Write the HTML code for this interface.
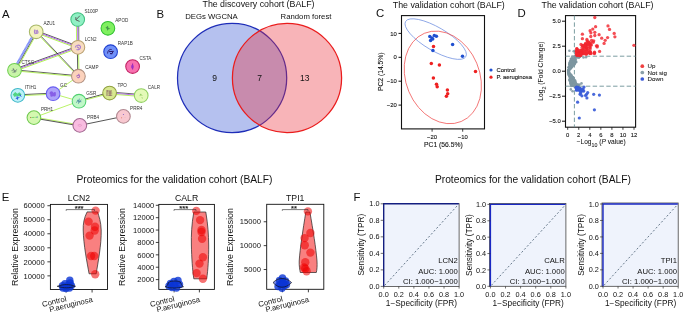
<!DOCTYPE html>
<html><head><meta charset="utf-8"><style>
html,body{margin:0;padding:0;background:#fff;width:685px;height:314px;overflow:hidden}
svg{display:block;font-family:"Liberation Sans", sans-serif;will-change:transform}
</style></head><body>
<svg width="685" height="314" viewBox="0 0 685 314">
<rect width="685" height="314" fill="#fff"/>
<text x="1.9" y="17.7" font-size="11.4" text-anchor="start" fill="#111" >A</text>
<text x="156.6" y="18.3" font-size="11.4" text-anchor="start" fill="#111" >B</text>
<text x="376.1" y="17.4" font-size="11.4" text-anchor="start" fill="#111" >C</text>
<text x="517.5" y="17.0" font-size="11.4" text-anchor="start" fill="#111" >D</text>
<text x="1.8" y="200.8" font-size="11.4" text-anchor="start" fill="#111" >E</text>
<text x="353.6" y="201" font-size="11.4" text-anchor="start" fill="#111" >F</text>
<line x1="35.33" y1="31.31" x2="13.63" y2="69.81" stroke="#a4b0ff" stroke-width="2.1"/>
<line x1="35.33" y1="31.31" x2="13.63" y2="69.81" stroke="#6878f0" stroke-width="2.1" stroke-dasharray="0.5 0.9"/>
<line x1="36.68" y1="32.07" x2="14.98" y2="70.57" stroke="#2a2a2a" stroke-width="0.7"/>
<line x1="37.42" y1="32.49" x2="15.72" y2="70.99" stroke="#a8f040" stroke-width="0.8"/>
<line x1="36.58" y1="30.77" x2="78.28" y2="46.27" stroke="#2a2a2a" stroke-width="0.75"/>
<line x1="36.23" y1="31.71" x2="77.93" y2="47.21" stroke="#b060f0" stroke-width="1.0"/>
<line x1="35.85" y1="32.74" x2="77.55" y2="48.24" stroke="#a8f040" stroke-width="0.9"/>
<line x1="36.53" y1="31.49" x2="78.73" y2="75.89" stroke="#2a2a2a" stroke-width="0.75"/>
<line x1="35.84" y1="32.14" x2="78.04" y2="76.54" stroke="#a8f040" stroke-width="0.8"/>
<line x1="14.12" y1="69.27" x2="77.52" y2="46.27" stroke="#2a2a2a" stroke-width="0.75"/>
<line x1="14.47" y1="70.21" x2="77.87" y2="47.21" stroke="#b060f0" stroke-width="1.0"/>
<line x1="14.84" y1="71.24" x2="78.24" y2="48.24" stroke="#a8f040" stroke-width="0.9"/>
<line x1="14.54" y1="69.85" x2="78.44" y2="75.75" stroke="#2a2a2a" stroke-width="0.75"/>
<line x1="14.45" y1="70.80" x2="78.35" y2="76.70" stroke="#a8f040" stroke-width="0.8"/>
<line x1="77.30" y1="47.31" x2="77.80" y2="76.21" stroke="#2a2a2a" stroke-width="0.75"/>
<line x1="78.50" y1="47.29" x2="79.00" y2="76.19" stroke="#a8f040" stroke-width="0.8"/>
<line x1="76.40" y1="19.51" x2="76.60" y2="47.31" stroke="#a8f040" stroke-width="0.8"/>
<line x1="77.60" y1="19.50" x2="77.80" y2="47.30" stroke="#b060f0" stroke-width="0.9"/>
<line x1="78.70" y1="19.49" x2="78.90" y2="47.29" stroke="#2a2a2a" stroke-width="0.6"/>
<line x1="17.78" y1="94.80" x2="53.08" y2="93.20" stroke="#2a2a2a" stroke-width="0.8"/>
<line x1="17.82" y1="95.80" x2="53.12" y2="94.20" stroke="#a8f040" stroke-width="0.8"/>
<line x1="53.10" y1="93.70" x2="78.40" y2="76.20" stroke="#a8f040" stroke-width="0.8"/>
<line x1="53.10" y1="93.70" x2="79.00" y2="101.20" stroke="#a8f040" stroke-width="0.8"/>
<line x1="78.87" y1="100.72" x2="109.47" y2="92.52" stroke="#2a2a2a" stroke-width="0.8"/>
<line x1="79.13" y1="101.68" x2="109.73" y2="93.48" stroke="#a8f040" stroke-width="0.8"/>
<line x1="109.68" y1="92.00" x2="141.28" y2="94.50" stroke="#2a2a2a" stroke-width="0.7"/>
<line x1="109.60" y1="93.00" x2="141.20" y2="95.50" stroke="#b060f0" stroke-width="0.9"/>
<line x1="109.52" y1="94.00" x2="141.12" y2="96.50" stroke="#a8f040" stroke-width="0.8"/>
<line x1="79.00" y1="101.20" x2="33.90" y2="117.60" stroke="#a8f040" stroke-width="0.8"/>
<line x1="33.98" y1="117.11" x2="79.88" y2="124.91" stroke="#a8f040" stroke-width="0.8"/>
<line x1="33.82" y1="118.09" x2="79.72" y2="125.89" stroke="#2a2a2a" stroke-width="0.8"/>
<line x1="79.80" y1="125.40" x2="123.40" y2="116.40" stroke="#2a2a2a" stroke-width="0.8"/>
<circle cx="36.2" cy="31.8" r="6.85" fill="#f4f4c0" stroke="#a8b868" stroke-width="1.05"/>
<g transform="translate(36.2,31.8)"><path d="M-1.2 -2.2 C-2 -0.5 -1.6 1.5 -0.8 2.4 M0 -1.5 L0.2 2.2 M0.8 -2 C1.8 -0.8 1.9 1 1.3 2" stroke="#a070d0" stroke-width="1.2" fill="none" opacity="0.85"/></g>
<circle cx="77.7" cy="19.5" r="6.85" fill="#90f0c4" stroke="#40c080" stroke-width="1.05"/>
<g transform="translate(77.7,19.5)"><path d="M2.2 -3.8 L-1.8 0.4 M-1.9 -2.4 L-1.8 0.4 L1.9 1.9" stroke="#555" stroke-width="0.9" fill="none"/></g>
<circle cx="107.9" cy="28.3" r="6.85" fill="#80f060" stroke="#30c030" stroke-width="1.05"/>
<g transform="translate(107.9,28.3)"><path d="M-2.4 -0.6 L0 -2.6 L0.6 -0.4 L2.6 0.4 L0.2 1.2 L-0.6 2.8 L-1 0.4 Z" fill="#2f7a40" opacity="0.75"/></g>
<circle cx="77.9" cy="47.3" r="6.85" fill="#f8dcc0" stroke="#b8a070" stroke-width="1.05"/>
<g transform="translate(77.9,47.3)"><path d="M-2.6 0.2 C-2.4 -2.4 1.8 -3 2.6 -0.6 C3 1.8 0.4 3 -1.4 2.2 M-1 -0.6 L1.2 1" stroke="#a070d0" stroke-width="1.1" fill="none" opacity="0.9"/></g>
<circle cx="110.6" cy="51.7" r="6.85" fill="#7090f8" stroke="#2040d0" stroke-width="1.05"/>
<g transform="translate(110.6,51.7)"><path d="M-3 1.8 C-2.8 -1.6 -0.6 -2.6 1 -2.2 M-1.6 0 L2.8 -0.4 L0.6 2.6 M-0.6 1.8 L1.8 2" stroke="#2a1a70" stroke-width="1" fill="none"/></g>
<circle cx="14.5" cy="70.3" r="6.85" fill="#c8f4a8" stroke="#70d050" stroke-width="1.05"/>
<g transform="translate(14.5,70.3)"><path d="M-3 0.4 L-0.6 -0.8 L0.6 0.6 L2.6 -0.8 M-1.4 -2.2 L0.4 2.2 M-2 2 L1.8 1.2" stroke="#607070" stroke-width="0.7" fill="none"/></g>
<circle cx="78.4" cy="76.2" r="6.85" fill="#fcd2bc" stroke="#b09080" stroke-width="1.05"/>
<g transform="translate(78.4,76.2)"><path d="M-1.8 0.4 C-1.4 -1.2 0.8 -1.6 1.2 0 C1.4 1.4 -0.4 1.8 -1.2 1.2 M0.6 -2.4 L0 -0.6" stroke="#a060c0" stroke-width="1.1" fill="none" opacity="0.9"/></g>
<circle cx="132.6" cy="66.5" r="6.85" fill="#f870b0" stroke="#c02060" stroke-width="1.05"/>
<g transform="translate(132.6,66.5)"><path d="M0 -3 L0 3" stroke="#8a20b0" stroke-width="0.9"/><ellipse cx="-0.2" cy="0.2" rx="1.4" ry="1.9" fill="#9a30c8" opacity="0.85"/></g>
<circle cx="17.8" cy="95.3" r="6.85" fill="#bcf0f8" stroke="#40b8c8" stroke-width="1.05"/>
<g transform="translate(17.8,95.3)"><path d="M-5 -0.8 L-2.6 -3.4 L-0.4 -1.6 L1.6 -3 L3.8 -0.8 L1.4 1.2 L-1 0.4 L-3.2 1.8 Z" fill="#40d070" opacity="0.85"/><path d="M-0.8 0.8 L-0.2 4.4 M-2 3.2 L1.6 2.2 M2 -1 L3.4 1.4" stroke="#2050e0" stroke-width="0.9" fill="none"/></g>
<circle cx="53.1" cy="93.7" r="6.85" fill="#aea4fa" stroke="#6a60f0" stroke-width="1.05"/>
<g transform="translate(53.1,93.7)"><path d="M-3 -1.6 C-2 -3.2 0 -2.2 0.4 -0.6 C1.4 -2.8 3.6 -1.6 2.6 0.4 C3.6 2 1.6 3.6 0 2.2 C-1 3.6 -3.6 3 -2.6 1 C-4 0.4 -3.6 -1 -3 -1.6Z" fill="#7a48e0" opacity="0.75"/></g>
<circle cx="109.6" cy="93.0" r="6.85" fill="#d8e890" stroke="#90a040" stroke-width="1.05"/>
<g transform="translate(109.6,93.0)"><path d="M-2.6 -3 L-2.6 3 M-2.6 -2 L2.4 -2 M-1.4 0 L2.6 0 M-1.4 2.2 L2.6 2.2 M0.4 -2 L0.4 3" stroke="#805060" stroke-width="0.75" fill="none"/></g>
<circle cx="141.2" cy="95.5" r="6.85" fill="#e4fab8" stroke="#90d060" stroke-width="1.05"/>
<g transform="translate(141.2,95.5)"><path d="M-0.6 -1.6 L-1.2 0.6 M-0.6 -1.6 L1 0.4 M0.8 1.8 L1.2 3" stroke="#80c050" stroke-width="0.7" fill="none"/></g>
<circle cx="79.0" cy="101.2" r="6.85" fill="#c0f8c8" stroke="#50d070" stroke-width="1.05"/>
<g transform="translate(79.0,101.2)"><path d="M-2.6 1.6 L-1 -1.4 L0.6 1.2 L2.2 -1.6 M-1.8 -0.4 L2.4 0.6 M-0.6 2.6 L0.4 -2.6" stroke="#4a8aa0" stroke-width="0.7" fill="none"/></g>
<circle cx="123.4" cy="116.4" r="6.85" fill="#f8c8d0" stroke="#b08890" stroke-width="1.05"/>
<g transform="translate(123.4,116.4)"><circle cx="0" cy="-2" r="0.5" fill="#7050c0"/><circle cx="-1.8" cy="1.4" r="0.5" fill="#e07050"/><circle cx="1.6" cy="1.2" r="0.4" fill="#e0a0a0"/></g>
<circle cx="33.9" cy="117.6" r="6.85" fill="#d4f8b0" stroke="#70c850" stroke-width="1.05"/>
<g transform="translate(33.9,117.6)"><path d="M-3.4 0 L3.4 -0.4" stroke="#40c040" stroke-width="0.8" stroke-dasharray="0.8 0.6"/><circle cx="-3.2" cy="0" r="0.5" fill="#d05040"/><circle cx="3.4" cy="-0.5" r="0.5" fill="#3050d0"/></g>
<circle cx="79.8" cy="125.4" r="6.85" fill="#f8bce0" stroke="#a06890" stroke-width="1.05"/>
<g transform="translate(79.8,125.4)"><path d="M-2 -0.2 C-1 -1.4 1.4 -1 2 0 C1 1.2 -1 1.2 -2 -0.2" stroke="#e090c0" stroke-width="0.6" fill="none"/></g>
<text x="43.4" y="24.9" font-size="4.6" text-anchor="start" fill="#333" >AZU1</text>
<text x="84.4" y="12.9" font-size="4.6" text-anchor="start" fill="#333" >S100P</text>
<text x="115.3" y="21.9" font-size="4.6" text-anchor="start" fill="#333" >APOD</text>
<text x="84.8" y="40.8" font-size="4.6" text-anchor="start" fill="#333" >LCN2</text>
<text x="117.8" y="45.3" font-size="4.6" text-anchor="start" fill="#333" >RAP1B</text>
<text x="21.5" y="64.0" font-size="4.6" text-anchor="start" fill="#333" >CTSG</text>
<text x="85.2" y="69.4" font-size="4.6" text-anchor="start" fill="#333" >CAMP</text>
<text x="139.5" y="59.9" font-size="4.6" text-anchor="start" fill="#333" >CSTA</text>
<text x="25.1" y="88.9" font-size="4.6" text-anchor="start" fill="#333" >ITIH1</text>
<text x="60.1" y="86.7" font-size="4.6" text-anchor="start" fill="#333" >GC</text>
<text x="117.5" y="86.5" font-size="4.6" text-anchor="start" fill="#333" >TPO</text>
<text x="147.8" y="88.6" font-size="4.6" text-anchor="start" fill="#333" >CALR</text>
<text x="86.3" y="94.6" font-size="4.6" text-anchor="start" fill="#333" >GSR</text>
<text x="130.1" y="109.6" font-size="4.6" text-anchor="start" fill="#333" >PRR4</text>
<text x="40.9" y="110.6" font-size="4.6" text-anchor="start" fill="#333" >PRH1</text>
<text x="87.1" y="119.0" font-size="4.6" text-anchor="start" fill="#333" >PRB4</text>
<text x="258.5" y="7.3" font-size="8.8" text-anchor="middle" fill="#111" >The discovery cohort (BALF)</text>
<text x="211.5" y="19.4" font-size="7.75" text-anchor="middle" fill="#111" >DEGs WGCNA</text>
<text x="306" y="19.4" font-size="7.75" text-anchor="middle" fill="#111" >Random forest</text>
<circle cx="232.1" cy="78.0" r="54.6" fill="#b5c1ef" stroke="#1e2db8" stroke-width="1.25"/>
<circle cx="287.0" cy="78.0" r="54.6" fill="rgb(236,40,52)" fill-opacity="0.35" stroke="#ea1c1c" stroke-width="1.25"/>
<text x="214.6" y="81" font-size="8.5" text-anchor="middle" fill="#111" >9</text>
<text x="259.6" y="81" font-size="8.5" text-anchor="middle" fill="#111" >7</text>
<text x="304.7" y="81" font-size="8.5" text-anchor="middle" fill="#111" >13</text>
<text x="448.8" y="8.2" font-size="8.8" text-anchor="middle" fill="#111" >The validation cohort (BALF)</text>
<rect x="401.5" y="15.6" width="83.0" height="113.30000000000001" fill="none" stroke="#111" stroke-width="1.1"/>
<line x1="398.5" y1="33.40" x2="401.5" y2="33.40" stroke="#111" stroke-width="1"/>
<text x="396.8" y="35.49999999999999" font-size="5.9" text-anchor="end" fill="#111" stroke="#111" stroke-width="0.1">10</text>
<line x1="398.5" y1="57.30" x2="401.5" y2="57.30" stroke="#111" stroke-width="1"/>
<text x="396.8" y="59.4" font-size="5.9" text-anchor="end" fill="#111" stroke="#111" stroke-width="0.1">0</text>
<line x1="398.5" y1="81.20" x2="401.5" y2="81.20" stroke="#111" stroke-width="1"/>
<text x="396.8" y="83.3" font-size="5.9" text-anchor="end" fill="#111" stroke="#111" stroke-width="0.1">−10</text>
<line x1="398.5" y1="105.10" x2="401.5" y2="105.10" stroke="#111" stroke-width="1"/>
<text x="396.8" y="107.19999999999999" font-size="5.9" text-anchor="end" fill="#111" stroke="#111" stroke-width="0.1">−20</text>
<line x1="432.10" y1="128.9" x2="432.10" y2="131.70000000000002" stroke="#111" stroke-width="0.8"/>
<text x="432.1" y="139.3" font-size="5.9" text-anchor="middle" fill="#111" stroke="#111" stroke-width="0.1">−20</text>
<line x1="462.70" y1="128.9" x2="462.70" y2="131.70000000000002" stroke="#111" stroke-width="0.8"/>
<text x="462.70000000000005" y="139.3" font-size="5.9" text-anchor="middle" fill="#111" stroke="#111" stroke-width="0.1">−10</text>
<text x="443.4" y="146.7" font-size="6.75" text-anchor="middle" fill="#111" stroke="#111" stroke-width="0.1">PC1 (56.5%)</text>
<text x="0" y="0" font-size="6.75" text-anchor="middle" fill="#111" stroke="#111" stroke-width="0.1" transform="translate(383.2,71.7) rotate(-90)">PC2 (14.5%)</text>
<ellipse cx="435.7" cy="39.1" rx="34.9" ry="11.7" transform="rotate(30.3 435.7 39.1)" fill="none" stroke="#6f8fe0" stroke-width="0.7"/>
<ellipse cx="442.8" cy="77.4" rx="36.8" ry="47.8" transform="rotate(-22.7 442.8 77.4)" fill="none" stroke="#f05050" stroke-width="0.7"/>
<circle cx="429.8" cy="36.5" r="1.75" fill="#1f4fd0"/>
<circle cx="431.9" cy="38" r="1.75" fill="#1f4fd0"/>
<circle cx="434.3" cy="35.5" r="1.75" fill="#1f4fd0"/>
<circle cx="436.4" cy="36.3" r="1.75" fill="#1f4fd0"/>
<circle cx="430.6" cy="40.4" r="1.75" fill="#1f4fd0"/>
<circle cx="432.7" cy="39" r="1.75" fill="#1f4fd0"/>
<circle cx="452.6" cy="44.6" r="1.75" fill="#1f4fd0"/>
<circle cx="432.9" cy="50.4" r="1.75" fill="#1f4fd0"/>
<circle cx="462.5" cy="56.2" r="1.75" fill="#1f4fd0"/>
<circle cx="433.5" cy="46.6" r="1.75" fill="#ee2020"/>
<circle cx="431.3" cy="63.6" r="1.75" fill="#ee2020"/>
<circle cx="439.4" cy="65.0" r="1.75" fill="#ee2020"/>
<circle cx="475.5" cy="71.5" r="1.75" fill="#ee2020"/>
<circle cx="433.4" cy="77.9" r="1.75" fill="#ee2020"/>
<circle cx="436.5" cy="84.3" r="1.75" fill="#ee2020"/>
<circle cx="437.2" cy="86.8" r="1.75" fill="#ee2020"/>
<circle cx="447.4" cy="90.1" r="1.75" fill="#ee2020"/>
<circle cx="447.7" cy="93.7" r="1.75" fill="#ee2020"/>
<circle cx="446.4" cy="96.2" r="1.75" fill="#ee2020"/>
<circle cx="491" cy="70" r="1.6" fill="#1f4fd0"/>
<circle cx="491" cy="77.2" r="1.6" fill="#ee2020"/>
<text x="496.5" y="72.2" font-size="5.9" text-anchor="start" fill="#111" stroke="#111" stroke-width="0.1">Control</text>
<text x="496.5" y="79.4" font-size="5.9" text-anchor="start" fill="#111" stroke="#111" stroke-width="0.1">P. aeruginosa</text>
<text x="597.5" y="8.2" font-size="8.8" text-anchor="middle" fill="#111" >The validation cohort (BALF)</text>
<rect x="565.5" y="15.6" width="70.10000000000002" height="111.60000000000001" fill="none" stroke="#111" stroke-width="1.1"/>
<line x1="562.0" y1="21.20" x2="565.5" y2="21.20" stroke="#111" stroke-width="1"/>
<text x="560.8" y="23.300000000000004" font-size="5.9" text-anchor="end" fill="#111" stroke="#111" stroke-width="0.1">5.0</text>
<line x1="562.0" y1="46.20" x2="565.5" y2="46.20" stroke="#111" stroke-width="1"/>
<text x="560.8" y="48.300000000000004" font-size="5.9" text-anchor="end" fill="#111" stroke="#111" stroke-width="0.1">2.5</text>
<line x1="562.0" y1="71.20" x2="565.5" y2="71.20" stroke="#111" stroke-width="1"/>
<text x="560.8" y="73.3" font-size="5.9" text-anchor="end" fill="#111" stroke="#111" stroke-width="0.1">0.0</text>
<line x1="562.0" y1="96.20" x2="565.5" y2="96.20" stroke="#111" stroke-width="1"/>
<text x="560.8" y="98.3" font-size="5.9" text-anchor="end" fill="#111" stroke="#111" stroke-width="0.1">−2.5</text>
<line x1="562.0" y1="121.20" x2="565.5" y2="121.20" stroke="#111" stroke-width="1"/>
<text x="560.8" y="123.3" font-size="5.9" text-anchor="end" fill="#111" stroke="#111" stroke-width="0.1">−5.0</text>
<line x1="567.70" y1="127.2" x2="567.70" y2="129.8" stroke="#111" stroke-width="0.8"/>
<text x="567.7" y="137.0" font-size="5.9" text-anchor="middle" fill="#111" stroke="#111" stroke-width="0.1">0</text>
<line x1="578.75" y1="127.2" x2="578.75" y2="129.8" stroke="#111" stroke-width="0.8"/>
<text x="578.75" y="137.0" font-size="5.9" text-anchor="middle" fill="#111" stroke="#111" stroke-width="0.1">2</text>
<line x1="589.80" y1="127.2" x2="589.80" y2="129.8" stroke="#111" stroke-width="0.8"/>
<text x="589.8000000000001" y="137.0" font-size="5.9" text-anchor="middle" fill="#111" stroke="#111" stroke-width="0.1">4</text>
<line x1="600.85" y1="127.2" x2="600.85" y2="129.8" stroke="#111" stroke-width="0.8"/>
<text x="600.85" y="137.0" font-size="5.9" text-anchor="middle" fill="#111" stroke="#111" stroke-width="0.1">6</text>
<line x1="611.90" y1="127.2" x2="611.90" y2="129.8" stroke="#111" stroke-width="0.8"/>
<text x="611.9000000000001" y="137.0" font-size="5.9" text-anchor="middle" fill="#111" stroke="#111" stroke-width="0.1">8</text>
<line x1="622.95" y1="127.2" x2="622.95" y2="129.8" stroke="#111" stroke-width="0.8"/>
<text x="622.95" y="137.0" font-size="5.9" text-anchor="middle" fill="#111" stroke="#111" stroke-width="0.1">10</text>
<line x1="634.00" y1="127.2" x2="634.00" y2="129.8" stroke="#111" stroke-width="0.8"/>
<text x="634.0" y="137.0" font-size="5.9" text-anchor="middle" fill="#111" stroke="#111" stroke-width="0.1">12</text>
<text x="601.2" y="144.2" font-size="6.6" text-anchor="middle" fill="#111" stroke="#111" stroke-width="0.05">−Log<tspan font-size="5.3" dy="2.5">10</tspan><tspan dy="-2.5"> (</tspan><tspan style="font-style:italic">P</tspan> value)</text>
<text x="0" y="0" font-size="6.75" text-anchor="middle" fill="#222" stroke="#111" stroke-width="0.05" transform="translate(543.3,71.1) rotate(-90)">Log<tspan font-size="5.3" dy="2.3">2</tspan><tspan dy="-2.3"> (Fold Change)</tspan></text>
<g stroke="#6d9296" stroke-width="0.9" stroke-dasharray="4.4 2.4" fill="none">
<line x1="574.4" y1="15.6" x2="574.4" y2="127.2"/>
<line x1="565.5" y1="56.20" x2="635.6" y2="56.20"/>
<line x1="565.5" y1="86.20" x2="635.6" y2="86.20"/>
</g>
<circle cx="571.1" cy="67.2" r="1.3" fill="#7d96a0" fill-opacity="0.88"/>
<circle cx="576.3" cy="61.9" r="1.3" fill="#7d96a0" fill-opacity="0.88"/>
<circle cx="574.7" cy="63.6" r="1.3" fill="#7d96a0" fill-opacity="0.88"/>
<circle cx="574.4" cy="85.3" r="1.3" fill="#7d96a0" fill-opacity="0.88"/>
<circle cx="576.7" cy="57.4" r="1.3" fill="#7d96a0" fill-opacity="0.88"/>
<circle cx="571.8" cy="58.7" r="1.3" fill="#7d96a0" fill-opacity="0.88"/>
<circle cx="568.3" cy="71.9" r="1.3" fill="#7d96a0" fill-opacity="0.88"/>
<circle cx="569.1" cy="69.6" r="1.3" fill="#7d96a0" fill-opacity="0.88"/>
<circle cx="572.4" cy="85.8" r="1.3" fill="#7d96a0" fill-opacity="0.88"/>
<circle cx="572.9" cy="77.7" r="1.3" fill="#7d96a0" fill-opacity="0.88"/>
<circle cx="570.4" cy="62.8" r="1.3" fill="#7d96a0" fill-opacity="0.88"/>
<circle cx="570.5" cy="61.9" r="1.3" fill="#7d96a0" fill-opacity="0.88"/>
<circle cx="569.0" cy="67.4" r="1.3" fill="#7d96a0" fill-opacity="0.88"/>
<circle cx="578.4" cy="86.1" r="1.3" fill="#7d96a0" fill-opacity="0.88"/>
<circle cx="570.7" cy="79.8" r="1.3" fill="#7d96a0" fill-opacity="0.88"/>
<circle cx="579.1" cy="56.2" r="1.3" fill="#7d96a0" fill-opacity="0.88"/>
<circle cx="572.8" cy="77.4" r="1.3" fill="#7d96a0" fill-opacity="0.88"/>
<circle cx="569.2" cy="69.8" r="1.3" fill="#7d96a0" fill-opacity="0.88"/>
<circle cx="574.6" cy="80.0" r="1.3" fill="#7d96a0" fill-opacity="0.88"/>
<circle cx="573.7" cy="65.1" r="1.3" fill="#7d96a0" fill-opacity="0.88"/>
<circle cx="573.1" cy="58.9" r="1.3" fill="#7d96a0" fill-opacity="0.88"/>
<circle cx="569.2" cy="75.2" r="1.3" fill="#7d96a0" fill-opacity="0.88"/>
<circle cx="570.3" cy="81.8" r="1.3" fill="#7d96a0" fill-opacity="0.88"/>
<circle cx="571.3" cy="77.0" r="1.3" fill="#7d96a0" fill-opacity="0.88"/>
<circle cx="576.6" cy="86.1" r="1.3" fill="#7d96a0" fill-opacity="0.88"/>
<circle cx="569.8" cy="75.9" r="1.3" fill="#7d96a0" fill-opacity="0.88"/>
<circle cx="573.3" cy="61.2" r="1.3" fill="#7d96a0" fill-opacity="0.88"/>
<circle cx="570.6" cy="76.6" r="1.3" fill="#7d96a0" fill-opacity="0.88"/>
<circle cx="569.4" cy="64.7" r="1.3" fill="#7d96a0" fill-opacity="0.88"/>
<circle cx="572.2" cy="56.5" r="1.3" fill="#7d96a0" fill-opacity="0.88"/>
<circle cx="574.5" cy="63.3" r="1.3" fill="#7d96a0" fill-opacity="0.88"/>
<circle cx="577.3" cy="85.6" r="1.3" fill="#7d96a0" fill-opacity="0.88"/>
<circle cx="570.2" cy="75.0" r="1.3" fill="#7d96a0" fill-opacity="0.88"/>
<circle cx="571.0" cy="85.9" r="1.3" fill="#7d96a0" fill-opacity="0.88"/>
<circle cx="575.2" cy="80.7" r="1.3" fill="#7d96a0" fill-opacity="0.88"/>
<circle cx="573.8" cy="80.2" r="1.3" fill="#7d96a0" fill-opacity="0.88"/>
<circle cx="578.8" cy="57.8" r="1.3" fill="#7d96a0" fill-opacity="0.88"/>
<circle cx="569.8" cy="75.7" r="1.3" fill="#7d96a0" fill-opacity="0.88"/>
<circle cx="569.0" cy="70.2" r="1.3" fill="#7d96a0" fill-opacity="0.88"/>
<circle cx="575.3" cy="82.9" r="1.3" fill="#7d96a0" fill-opacity="0.88"/>
<circle cx="575.8" cy="61.9" r="1.3" fill="#7d96a0" fill-opacity="0.88"/>
<circle cx="578.3" cy="85.1" r="1.3" fill="#7d96a0" fill-opacity="0.88"/>
<circle cx="572.6" cy="83.4" r="1.3" fill="#7d96a0" fill-opacity="0.88"/>
<circle cx="571.4" cy="67.6" r="1.3" fill="#7d96a0" fill-opacity="0.88"/>
<circle cx="571.6" cy="75.8" r="1.3" fill="#7d96a0" fill-opacity="0.88"/>
<circle cx="568.8" cy="69.6" r="1.3" fill="#7d96a0" fill-opacity="0.88"/>
<circle cx="569.6" cy="76.5" r="1.3" fill="#7d96a0" fill-opacity="0.88"/>
<circle cx="571.3" cy="83.8" r="1.3" fill="#7d96a0" fill-opacity="0.88"/>
<circle cx="573.8" cy="65.2" r="1.3" fill="#7d96a0" fill-opacity="0.88"/>
<circle cx="570.1" cy="81.3" r="1.3" fill="#7d96a0" fill-opacity="0.88"/>
<circle cx="576.5" cy="56.1" r="1.3" fill="#7d96a0" fill-opacity="0.88"/>
<circle cx="568.9" cy="73.8" r="1.3" fill="#7d96a0" fill-opacity="0.88"/>
<circle cx="570.7" cy="68.1" r="1.3" fill="#7d96a0" fill-opacity="0.88"/>
<circle cx="568.6" cy="72.3" r="1.3" fill="#7d96a0" fill-opacity="0.88"/>
<circle cx="577.7" cy="84.5" r="1.3" fill="#7d96a0" fill-opacity="0.88"/>
<circle cx="574.6" cy="85.2" r="1.3" fill="#7d96a0" fill-opacity="0.88"/>
<circle cx="570.9" cy="60.6" r="1.3" fill="#7d96a0" fill-opacity="0.88"/>
<circle cx="574.7" cy="63.9" r="1.3" fill="#7d96a0" fill-opacity="0.88"/>
<circle cx="571.4" cy="67.0" r="1.3" fill="#7d96a0" fill-opacity="0.88"/>
<circle cx="573.1" cy="82.9" r="1.3" fill="#7d96a0" fill-opacity="0.88"/>
<circle cx="575.2" cy="81.6" r="1.3" fill="#7d96a0" fill-opacity="0.88"/>
<circle cx="570.8" cy="77.2" r="1.3" fill="#7d96a0" fill-opacity="0.88"/>
<circle cx="579.2" cy="55.7" r="1.3" fill="#7d96a0" fill-opacity="0.88"/>
<circle cx="575.7" cy="56.4" r="1.3" fill="#7d96a0" fill-opacity="0.88"/>
<circle cx="568.3" cy="71.3" r="1.3" fill="#7d96a0" fill-opacity="0.88"/>
<circle cx="568.3" cy="71.6" r="1.3" fill="#7d96a0" fill-opacity="0.88"/>
<circle cx="568.8" cy="73.9" r="1.3" fill="#7d96a0" fill-opacity="0.88"/>
<circle cx="570.9" cy="74.7" r="1.3" fill="#7d96a0" fill-opacity="0.88"/>
<circle cx="576.8" cy="56.9" r="1.3" fill="#7d96a0" fill-opacity="0.88"/>
<circle cx="568.2" cy="71.0" r="1.3" fill="#7d96a0" fill-opacity="0.88"/>
<circle cx="572.2" cy="83.5" r="1.3" fill="#7d96a0" fill-opacity="0.88"/>
<circle cx="575.4" cy="62.3" r="1.3" fill="#7d96a0" fill-opacity="0.88"/>
<circle cx="570.8" cy="75.2" r="1.3" fill="#7d96a0" fill-opacity="0.88"/>
<circle cx="574.1" cy="62.6" r="1.3" fill="#7d96a0" fill-opacity="0.88"/>
<circle cx="572.1" cy="65.9" r="1.3" fill="#7d96a0" fill-opacity="0.88"/>
<circle cx="570.5" cy="75.1" r="1.3" fill="#7d96a0" fill-opacity="0.88"/>
<circle cx="571.1" cy="77.6" r="1.3" fill="#7d96a0" fill-opacity="0.88"/>
<circle cx="574.0" cy="62.7" r="1.3" fill="#7d96a0" fill-opacity="0.88"/>
<circle cx="572.7" cy="77.2" r="1.3" fill="#7d96a0" fill-opacity="0.88"/>
<circle cx="571.1" cy="66.4" r="1.3" fill="#7d96a0" fill-opacity="0.88"/>
<circle cx="575.4" cy="85.8" r="1.3" fill="#7d96a0" fill-opacity="0.88"/>
<circle cx="572.4" cy="78.6" r="1.3" fill="#7d96a0" fill-opacity="0.88"/>
<circle cx="568.9" cy="72.1" r="1.3" fill="#7d96a0" fill-opacity="0.88"/>
<circle cx="571.9" cy="66.5" r="1.3" fill="#7d96a0" fill-opacity="0.88"/>
<circle cx="570.6" cy="75.6" r="1.3" fill="#7d96a0" fill-opacity="0.88"/>
<circle cx="574.1" cy="63.7" r="1.3" fill="#7d96a0" fill-opacity="0.88"/>
<circle cx="571.2" cy="75.5" r="1.3" fill="#7d96a0" fill-opacity="0.88"/>
<circle cx="575.8" cy="59.7" r="1.3" fill="#7d96a0" fill-opacity="0.88"/>
<circle cx="579.6" cy="56.4" r="1.3" fill="#7d96a0" fill-opacity="0.88"/>
<circle cx="568.7" cy="70.4" r="1.3" fill="#7d96a0" fill-opacity="0.88"/>
<circle cx="574.8" cy="81.1" r="1.3" fill="#7d96a0" fill-opacity="0.88"/>
<circle cx="575.2" cy="57.6" r="1.3" fill="#7d96a0" fill-opacity="0.88"/>
<circle cx="572.5" cy="65.1" r="1.3" fill="#7d96a0" fill-opacity="0.88"/>
<circle cx="570.2" cy="63.9" r="1.3" fill="#7d96a0" fill-opacity="0.88"/>
<circle cx="573.4" cy="62.4" r="1.3" fill="#7d96a0" fill-opacity="0.88"/>
<circle cx="570.7" cy="65.9" r="1.3" fill="#7d96a0" fill-opacity="0.88"/>
<circle cx="571.2" cy="67.2" r="1.3" fill="#7d96a0" fill-opacity="0.88"/>
<circle cx="571.3" cy="66.8" r="1.3" fill="#7d96a0" fill-opacity="0.88"/>
<circle cx="571.8" cy="85.4" r="1.3" fill="#7d96a0" fill-opacity="0.88"/>
<circle cx="569.1" cy="72.7" r="1.3" fill="#7d96a0" fill-opacity="0.88"/>
<circle cx="573.0" cy="79.5" r="1.3" fill="#7d96a0" fill-opacity="0.88"/>
<circle cx="568.9" cy="67.0" r="1.3" fill="#7d96a0" fill-opacity="0.88"/>
<circle cx="568.3" cy="71.8" r="1.3" fill="#7d96a0" fill-opacity="0.88"/>
<circle cx="571.4" cy="84.5" r="1.3" fill="#7d96a0" fill-opacity="0.88"/>
<circle cx="569.6" cy="76.5" r="1.3" fill="#7d96a0" fill-opacity="0.88"/>
<circle cx="569.8" cy="80.3" r="1.3" fill="#7d96a0" fill-opacity="0.88"/>
<circle cx="568.5" cy="72.0" r="1.3" fill="#7d96a0" fill-opacity="0.88"/>
<circle cx="570.4" cy="67.5" r="1.3" fill="#7d96a0" fill-opacity="0.88"/>
<circle cx="573.7" cy="78.9" r="1.3" fill="#7d96a0" fill-opacity="0.88"/>
<circle cx="574.2" cy="86.2" r="1.3" fill="#7d96a0" fill-opacity="0.88"/>
<circle cx="570.8" cy="77.7" r="1.3" fill="#7d96a0" fill-opacity="0.88"/>
<circle cx="575.8" cy="82.7" r="1.3" fill="#7d96a0" fill-opacity="0.88"/>
<circle cx="568.7" cy="74.8" r="1.3" fill="#7d96a0" fill-opacity="0.88"/>
<circle cx="568.9" cy="67.5" r="1.3" fill="#7d96a0" fill-opacity="0.88"/>
<circle cx="568.8" cy="69.6" r="1.3" fill="#7d96a0" fill-opacity="0.88"/>
<circle cx="570.7" cy="68.5" r="1.3" fill="#7d96a0" fill-opacity="0.88"/>
<circle cx="572.9" cy="61.2" r="1.3" fill="#7d96a0" fill-opacity="0.88"/>
<circle cx="574.5" cy="61.4" r="1.3" fill="#7d96a0" fill-opacity="0.88"/>
<circle cx="569.0" cy="74.9" r="1.3" fill="#7d96a0" fill-opacity="0.88"/>
<circle cx="570.1" cy="68.0" r="1.3" fill="#7d96a0" fill-opacity="0.88"/>
<circle cx="579.4" cy="57.0" r="1.3" fill="#7d96a0" fill-opacity="0.88"/>
<circle cx="569.6" cy="67.6" r="1.3" fill="#7d96a0" fill-opacity="0.88"/>
<circle cx="570.8" cy="58.9" r="1.3" fill="#7d96a0" fill-opacity="0.88"/>
<circle cx="574.1" cy="82.9" r="1.3" fill="#7d96a0" fill-opacity="0.88"/>
<circle cx="569.1" cy="67.4" r="1.3" fill="#7d96a0" fill-opacity="0.88"/>
<circle cx="571.8" cy="67.0" r="1.3" fill="#7d96a0" fill-opacity="0.88"/>
<circle cx="569.7" cy="74.7" r="1.3" fill="#7d96a0" fill-opacity="0.88"/>
<circle cx="570.9" cy="79.3" r="1.3" fill="#7d96a0" fill-opacity="0.88"/>
<circle cx="575.0" cy="56.5" r="1.3" fill="#7d96a0" fill-opacity="0.88"/>
<circle cx="579.1" cy="56.9" r="1.3" fill="#7d96a0" fill-opacity="0.88"/>
<circle cx="569.2" cy="68.0" r="1.3" fill="#7d96a0" fill-opacity="0.88"/>
<circle cx="576.1" cy="56.3" r="1.3" fill="#7d96a0" fill-opacity="0.88"/>
<circle cx="569.0" cy="73.5" r="1.3" fill="#7d96a0" fill-opacity="0.88"/>
<circle cx="576.1" cy="56.2" r="1.3" fill="#7d96a0" fill-opacity="0.88"/>
<circle cx="571.0" cy="77.5" r="1.3" fill="#7d96a0" fill-opacity="0.88"/>
<circle cx="574.2" cy="82.5" r="1.3" fill="#7d96a0" fill-opacity="0.88"/>
<circle cx="568.6" cy="72.7" r="1.3" fill="#7d96a0" fill-opacity="0.88"/>
<circle cx="575.2" cy="62.4" r="1.3" fill="#7d96a0" fill-opacity="0.88"/>
<circle cx="575.2" cy="85.8" r="1.3" fill="#7d96a0" fill-opacity="0.88"/>
<circle cx="573.1" cy="77.8" r="1.3" fill="#7d96a0" fill-opacity="0.88"/>
<circle cx="571.1" cy="62.4" r="1.3" fill="#7d96a0" fill-opacity="0.88"/>
<circle cx="569.9" cy="78.0" r="1.3" fill="#7d96a0" fill-opacity="0.88"/>
<circle cx="574.6" cy="56.0" r="1.3" fill="#7d96a0" fill-opacity="0.88"/>
<circle cx="570.0" cy="67.7" r="1.3" fill="#7d96a0" fill-opacity="0.88"/>
<circle cx="571.1" cy="66.5" r="1.3" fill="#7d96a0" fill-opacity="0.88"/>
<circle cx="570.0" cy="63.5" r="1.3" fill="#7d96a0" fill-opacity="0.88"/>
<circle cx="571.3" cy="63.0" r="1.3" fill="#7d96a0" fill-opacity="0.88"/>
<circle cx="568.7" cy="69.9" r="1.3" fill="#7d96a0" fill-opacity="0.88"/>
<circle cx="571.0" cy="77.1" r="1.3" fill="#7d96a0" fill-opacity="0.88"/>
<circle cx="568.5" cy="72.0" r="1.3" fill="#7d96a0" fill-opacity="0.88"/>
<circle cx="572.8" cy="63.5" r="1.3" fill="#7d96a0" fill-opacity="0.88"/>
<circle cx="572.5" cy="85.1" r="1.3" fill="#7d96a0" fill-opacity="0.88"/>
<circle cx="569.1" cy="72.3" r="1.3" fill="#7d96a0" fill-opacity="0.88"/>
<circle cx="575.0" cy="59.1" r="1.3" fill="#7d96a0" fill-opacity="0.88"/>
<circle cx="577.3" cy="85.8" r="1.3" fill="#7d96a0" fill-opacity="0.88"/>
<circle cx="569.2" cy="73.2" r="1.3" fill="#7d96a0" fill-opacity="0.88"/>
<circle cx="572.4" cy="64.6" r="1.3" fill="#7d96a0" fill-opacity="0.88"/>
<circle cx="568.5" cy="71.5" r="1.3" fill="#7d96a0" fill-opacity="0.88"/>
<circle cx="569.5" cy="74.4" r="1.3" fill="#7d96a0" fill-opacity="0.88"/>
<circle cx="571.6" cy="60.2" r="1.3" fill="#7d96a0" fill-opacity="0.88"/>
<circle cx="572.2" cy="77.2" r="1.3" fill="#7d96a0" fill-opacity="0.88"/>
<circle cx="576.8" cy="84.2" r="1.3" fill="#7d96a0" fill-opacity="0.88"/>
<circle cx="571.1" cy="65.0" r="1.3" fill="#7d96a0" fill-opacity="0.88"/>
<circle cx="572.2" cy="77.5" r="1.3" fill="#7d96a0" fill-opacity="0.88"/>
<circle cx="572.1" cy="58.4" r="1.3" fill="#7d96a0" fill-opacity="0.88"/>
<circle cx="568.4" cy="71.6" r="1.3" fill="#7d96a0" fill-opacity="0.88"/>
<circle cx="568.2" cy="71.0" r="1.3" fill="#7d96a0" fill-opacity="0.88"/>
<circle cx="573.5" cy="81.5" r="1.3" fill="#7d96a0" fill-opacity="0.88"/>
<circle cx="570.1" cy="61.4" r="1.3" fill="#7d96a0" fill-opacity="0.88"/>
<circle cx="573.4" cy="79.2" r="1.3" fill="#7d96a0" fill-opacity="0.88"/>
<circle cx="574.2" cy="62.1" r="1.3" fill="#7d96a0" fill-opacity="0.88"/>
<circle cx="576.6" cy="85.4" r="1.3" fill="#7d96a0" fill-opacity="0.88"/>
<circle cx="580.0" cy="56.4" r="1.3" fill="#7d96a0" fill-opacity="0.88"/>
<circle cx="569.3" cy="64.8" r="1.3" fill="#7d96a0" fill-opacity="0.88"/>
<circle cx="571.6" cy="60.5" r="1.3" fill="#7d96a0" fill-opacity="0.88"/>
<circle cx="572.4" cy="66.5" r="1.3" fill="#7d96a0" fill-opacity="0.88"/>
<circle cx="569.8" cy="64.5" r="1.3" fill="#7d96a0" fill-opacity="0.88"/>
<circle cx="572.6" cy="77.3" r="1.3" fill="#7d96a0" fill-opacity="0.88"/>
<circle cx="573.7" cy="81.6" r="1.3" fill="#7d96a0" fill-opacity="0.88"/>
<circle cx="568.7" cy="73.6" r="1.3" fill="#7d96a0" fill-opacity="0.88"/>
<circle cx="568.8" cy="67.2" r="1.3" fill="#7d96a0" fill-opacity="0.88"/>
<circle cx="572.7" cy="82.9" r="1.3" fill="#7d96a0" fill-opacity="0.88"/>
<circle cx="570.7" cy="84.0" r="1.3" fill="#7d96a0" fill-opacity="0.88"/>
<circle cx="570.1" cy="68.7" r="1.3" fill="#7d96a0" fill-opacity="0.88"/>
<circle cx="571.6" cy="59.4" r="1.3" fill="#7d96a0" fill-opacity="0.88"/>
<circle cx="568.8" cy="73.0" r="1.3" fill="#7d96a0" fill-opacity="0.88"/>
<circle cx="569.9" cy="67.9" r="1.3" fill="#7d96a0" fill-opacity="0.88"/>
<circle cx="574.4" cy="57.6" r="1.3" fill="#7d96a0" fill-opacity="0.88"/>
<circle cx="575.9" cy="84.5" r="1.3" fill="#7d96a0" fill-opacity="0.88"/>
<circle cx="573.8" cy="81.6" r="1.3" fill="#7d96a0" fill-opacity="0.88"/>
<circle cx="568.7" cy="70.8" r="1.3" fill="#7d96a0" fill-opacity="0.88"/>
<circle cx="569.4" cy="69.3" r="1.3" fill="#7d96a0" fill-opacity="0.88"/>
<circle cx="571.6" cy="78.2" r="1.3" fill="#7d96a0" fill-opacity="0.88"/>
<circle cx="572.7" cy="78.4" r="1.3" fill="#7d96a0" fill-opacity="0.88"/>
<circle cx="568.3" cy="70.4" r="1.3" fill="#7d96a0" fill-opacity="0.88"/>
<circle cx="571.2" cy="79.1" r="1.3" fill="#7d96a0" fill-opacity="0.88"/>
<circle cx="570.3" cy="63.7" r="1.3" fill="#7d96a0" fill-opacity="0.88"/>
<circle cx="572.6" cy="64.4" r="1.3" fill="#7d96a0" fill-opacity="0.88"/>
<circle cx="575.2" cy="83.6" r="1.3" fill="#7d96a0" fill-opacity="0.88"/>
<circle cx="571.0" cy="83.4" r="1.3" fill="#7d96a0" fill-opacity="0.88"/>
<circle cx="569.2" cy="68.1" r="1.3" fill="#7d96a0" fill-opacity="0.88"/>
<circle cx="574.3" cy="59.5" r="1.3" fill="#7d96a0" fill-opacity="0.88"/>
<circle cx="571.5" cy="76.3" r="1.3" fill="#7d96a0" fill-opacity="0.88"/>
<circle cx="576.6" cy="85.3" r="1.3" fill="#7d96a0" fill-opacity="0.88"/>
<circle cx="571.5" cy="84.6" r="1.3" fill="#7d96a0" fill-opacity="0.88"/>
<circle cx="577.1" cy="57.2" r="1.3" fill="#7d96a0" fill-opacity="0.88"/>
<circle cx="570.0" cy="79.4" r="1.3" fill="#7d96a0" fill-opacity="0.88"/>
<circle cx="577.3" cy="56.5" r="1.3" fill="#7d96a0" fill-opacity="0.88"/>
<circle cx="570.7" cy="61.2" r="1.3" fill="#7d96a0" fill-opacity="0.88"/>
<circle cx="569.9" cy="67.1" r="1.3" fill="#7d96a0" fill-opacity="0.88"/>
<circle cx="571.0" cy="79.0" r="1.3" fill="#7d96a0" fill-opacity="0.88"/>
<circle cx="569.7" cy="67.5" r="1.3" fill="#7d96a0" fill-opacity="0.88"/>
<circle cx="568.9" cy="74.4" r="1.3" fill="#7d96a0" fill-opacity="0.88"/>
<circle cx="574.9" cy="60.9" r="1.3" fill="#7d96a0" fill-opacity="0.88"/>
<circle cx="572.8" cy="61.7" r="1.3" fill="#7d96a0" fill-opacity="0.88"/>
<circle cx="574.2" cy="60.2" r="1.3" fill="#7d96a0" fill-opacity="0.88"/>
<circle cx="570.0" cy="68.1" r="1.3" fill="#7d96a0" fill-opacity="0.88"/>
<circle cx="571.6" cy="63.6" r="1.3" fill="#7d96a0" fill-opacity="0.88"/>
<circle cx="570.3" cy="83.2" r="1.3" fill="#7d96a0" fill-opacity="0.88"/>
<circle cx="569.8" cy="80.0" r="1.3" fill="#7d96a0" fill-opacity="0.88"/>
<circle cx="574.5" cy="59.1" r="1.3" fill="#7d96a0" fill-opacity="0.88"/>
<circle cx="569.3" cy="63.0" r="1.3" fill="#7d96a0" fill-opacity="0.88"/>
<circle cx="568.8" cy="71.9" r="1.3" fill="#7d96a0" fill-opacity="0.88"/>
<circle cx="570.0" cy="67.3" r="1.3" fill="#7d96a0" fill-opacity="0.88"/>
<circle cx="568.3" cy="72.0" r="1.3" fill="#7d96a0" fill-opacity="0.88"/>
<circle cx="570.8" cy="81.5" r="1.3" fill="#7d96a0" fill-opacity="0.88"/>
<circle cx="569.6" cy="74.8" r="1.3" fill="#7d96a0" fill-opacity="0.88"/>
<circle cx="571.7" cy="59.3" r="1.3" fill="#7d96a0" fill-opacity="0.88"/>
<circle cx="570.5" cy="78.5" r="1.3" fill="#7d96a0" fill-opacity="0.88"/>
<circle cx="571.5" cy="81.3" r="1.3" fill="#7d96a0" fill-opacity="0.88"/>
<circle cx="571.7" cy="79.0" r="1.3" fill="#7d96a0" fill-opacity="0.88"/>
<circle cx="578.2" cy="85.2" r="1.3" fill="#7d96a0" fill-opacity="0.88"/>
<circle cx="571.0" cy="74.9" r="1.3" fill="#7d96a0" fill-opacity="0.88"/>
<circle cx="572.2" cy="65.2" r="1.3" fill="#7d96a0" fill-opacity="0.88"/>
<circle cx="568.8" cy="71.8" r="1.3" fill="#7d96a0" fill-opacity="0.88"/>
<circle cx="574.6" cy="82.6" r="1.3" fill="#7d96a0" fill-opacity="0.88"/>
<circle cx="571.7" cy="77.3" r="1.3" fill="#7d96a0" fill-opacity="0.88"/>
<circle cx="570.1" cy="64.0" r="1.3" fill="#7d96a0" fill-opacity="0.88"/>
<circle cx="569.7" cy="80.1" r="1.3" fill="#7d96a0" fill-opacity="0.88"/>
<circle cx="569.8" cy="79.2" r="1.3" fill="#7d96a0" fill-opacity="0.88"/>
<circle cx="569.4" cy="50.8" r="1.3" fill="#7d96a0" fill-opacity="0.88"/>
<circle cx="573.7" cy="51.2" r="1.3" fill="#7d96a0" fill-opacity="0.88"/>
<circle cx="586.0" cy="57.2" r="1.3" fill="#7d96a0" fill-opacity="0.88"/>
<circle cx="583.5" cy="57.5" r="1.3" fill="#7d96a0" fill-opacity="0.88"/>
<circle cx="572.6" cy="91.2" r="1.3" fill="#7d96a0" fill-opacity="0.88"/>
<circle cx="570.8" cy="89.4" r="1.3" fill="#7d96a0" fill-opacity="0.88"/>
<circle cx="579.5" cy="84.6" r="1.3" fill="#7d96a0" fill-opacity="0.88"/>
<circle cx="581.5" cy="83.4" r="1.3" fill="#7d96a0" fill-opacity="0.88"/>
<circle cx="594.8" cy="17.5" r="1.65" fill="#f2262e" fill-opacity="0.82"/>
<circle cx="595.6" cy="26.7" r="1.65" fill="#f2262e" fill-opacity="0.82"/>
<circle cx="592.8" cy="29.1" r="1.65" fill="#f2262e" fill-opacity="0.82"/>
<circle cx="590.1" cy="30.7" r="1.65" fill="#f2262e" fill-opacity="0.82"/>
<circle cx="590.9" cy="32.8" r="1.65" fill="#f2262e" fill-opacity="0.82"/>
<circle cx="594.8" cy="32.3" r="1.65" fill="#f2262e" fill-opacity="0.82"/>
<circle cx="608.0" cy="25.9" r="1.65" fill="#f2262e" fill-opacity="0.82"/>
<circle cx="609.5" cy="29.4" r="1.65" fill="#f2262e" fill-opacity="0.82"/>
<circle cx="614.2" cy="33.4" r="1.65" fill="#f2262e" fill-opacity="0.82"/>
<circle cx="614.9" cy="36.8" r="1.65" fill="#f2262e" fill-opacity="0.82"/>
<circle cx="582.4" cy="34.2" r="1.65" fill="#f2262e" fill-opacity="0.82"/>
<circle cx="599.1" cy="34.7" r="1.65" fill="#f2262e" fill-opacity="0.82"/>
<circle cx="594.8" cy="35.5" r="1.65" fill="#f2262e" fill-opacity="0.82"/>
<circle cx="607.6" cy="37.6" r="1.65" fill="#f2262e" fill-opacity="0.82"/>
<circle cx="601.7" cy="38.2" r="1.65" fill="#f2262e" fill-opacity="0.82"/>
<circle cx="605.2" cy="40.3" r="1.65" fill="#f2262e" fill-opacity="0.82"/>
<circle cx="604.1" cy="43.4" r="1.65" fill="#f2262e" fill-opacity="0.82"/>
<circle cx="582.4" cy="38.7" r="1.65" fill="#f2262e" fill-opacity="0.82"/>
<circle cx="586.9" cy="39.5" r="1.65" fill="#f2262e" fill-opacity="0.82"/>
<circle cx="591.6" cy="40.3" r="1.65" fill="#f2262e" fill-opacity="0.82"/>
<circle cx="593.2" cy="42.3" r="1.65" fill="#f2262e" fill-opacity="0.82"/>
<circle cx="588.5" cy="41.9" r="1.65" fill="#f2262e" fill-opacity="0.82"/>
<circle cx="596.4" cy="45.8" r="1.65" fill="#f2262e" fill-opacity="0.82"/>
<circle cx="597.2" cy="46.9" r="1.65" fill="#f2262e" fill-opacity="0.82"/>
<circle cx="599.6" cy="51.4" r="1.65" fill="#f2262e" fill-opacity="0.82"/>
<circle cx="594.5" cy="52.2" r="1.65" fill="#f2262e" fill-opacity="0.82"/>
<circle cx="594.5" cy="53.0" r="1.65" fill="#f2262e" fill-opacity="0.82"/>
<circle cx="633.9" cy="45.3" r="1.65" fill="#f2262e" fill-opacity="0.82"/>
<circle cx="590.8" cy="36.5" r="1.65" fill="#f2262e" fill-opacity="0.82"/>
<circle cx="593.7" cy="40.8" r="1.65" fill="#f2262e" fill-opacity="0.82"/>
<circle cx="597.3" cy="45.8" r="1.65" fill="#f2262e" fill-opacity="0.82"/>
<circle cx="594.4" cy="53.5" r="1.65" fill="#f2262e" fill-opacity="0.82"/>
<circle cx="587.2" cy="40.8" r="1.65" fill="#f2262e" fill-opacity="0.82"/>
<circle cx="589.5" cy="44.0" r="1.65" fill="#f2262e" fill-opacity="0.82"/>
<circle cx="585.5" cy="43.5" r="1.65" fill="#f2262e" fill-opacity="0.82"/>
<circle cx="583.0" cy="45.5" r="1.65" fill="#f2262e" fill-opacity="0.82"/>
<circle cx="581.0" cy="44.4" r="1.65" fill="#f2262e" fill-opacity="0.82"/>
<circle cx="582.1" cy="53.6" r="1.65" fill="#f2262e" fill-opacity="0.82"/>
<circle cx="586.6" cy="47.7" r="1.65" fill="#f2262e" fill-opacity="0.82"/>
<circle cx="585.5" cy="44.6" r="1.65" fill="#f2262e" fill-opacity="0.82"/>
<circle cx="585.1" cy="51.5" r="1.65" fill="#f2262e" fill-opacity="0.82"/>
<circle cx="576.7" cy="48.6" r="1.65" fill="#f2262e" fill-opacity="0.82"/>
<circle cx="581.2" cy="52.9" r="1.65" fill="#f2262e" fill-opacity="0.82"/>
<circle cx="582.9" cy="52.0" r="1.65" fill="#f2262e" fill-opacity="0.82"/>
<circle cx="577.0" cy="55.5" r="1.65" fill="#f2262e" fill-opacity="0.82"/>
<circle cx="590.5" cy="53.1" r="1.65" fill="#f2262e" fill-opacity="0.82"/>
<circle cx="578.8" cy="54.7" r="1.65" fill="#f2262e" fill-opacity="0.82"/>
<circle cx="578.9" cy="52.7" r="1.65" fill="#f2262e" fill-opacity="0.82"/>
<circle cx="579.6" cy="55.5" r="1.65" fill="#f2262e" fill-opacity="0.82"/>
<circle cx="578.0" cy="52.1" r="1.65" fill="#f2262e" fill-opacity="0.82"/>
<circle cx="581.0" cy="51.4" r="1.65" fill="#f2262e" fill-opacity="0.82"/>
<circle cx="577.2" cy="51.7" r="1.65" fill="#f2262e" fill-opacity="0.82"/>
<circle cx="590.2" cy="48.8" r="1.65" fill="#f2262e" fill-opacity="0.82"/>
<circle cx="576.4" cy="51.3" r="1.65" fill="#f2262e" fill-opacity="0.82"/>
<circle cx="582.4" cy="49.6" r="1.65" fill="#f2262e" fill-opacity="0.82"/>
<circle cx="586.5" cy="45.0" r="1.65" fill="#f2262e" fill-opacity="0.82"/>
<circle cx="579.6" cy="52.3" r="1.65" fill="#f2262e" fill-opacity="0.82"/>
<circle cx="577.2" cy="53.3" r="1.65" fill="#f2262e" fill-opacity="0.82"/>
<circle cx="577.0" cy="48.9" r="1.65" fill="#f2262e" fill-opacity="0.82"/>
<circle cx="577.4" cy="54.5" r="1.65" fill="#f2262e" fill-opacity="0.82"/>
<circle cx="578.8" cy="54.1" r="1.65" fill="#f2262e" fill-opacity="0.82"/>
<circle cx="578.8" cy="55.2" r="1.65" fill="#f2262e" fill-opacity="0.82"/>
<circle cx="586.1" cy="54.2" r="1.65" fill="#f2262e" fill-opacity="0.82"/>
<circle cx="580.6" cy="55.0" r="1.65" fill="#f2262e" fill-opacity="0.82"/>
<circle cx="581.3" cy="53.1" r="1.65" fill="#f2262e" fill-opacity="0.82"/>
<circle cx="589.7" cy="47.1" r="1.65" fill="#f2262e" fill-opacity="0.82"/>
<circle cx="587.1" cy="48.3" r="1.65" fill="#f2262e" fill-opacity="0.82"/>
<circle cx="585.3" cy="44.4" r="1.65" fill="#f2262e" fill-opacity="0.82"/>
<circle cx="586.6" cy="47.6" r="1.65" fill="#f2262e" fill-opacity="0.82"/>
<circle cx="580.7" cy="55.5" r="1.65" fill="#f2262e" fill-opacity="0.82"/>
<circle cx="576.8" cy="54.6" r="1.65" fill="#f2262e" fill-opacity="0.82"/>
<circle cx="579.3" cy="55.5" r="1.65" fill="#f2262e" fill-opacity="0.82"/>
<circle cx="587.2" cy="49.8" r="1.65" fill="#f2262e" fill-opacity="0.82"/>
<circle cx="577.4" cy="53.3" r="1.65" fill="#f2262e" fill-opacity="0.82"/>
<circle cx="589.0" cy="42.9" r="1.65" fill="#f2262e" fill-opacity="0.82"/>
<circle cx="581.5" cy="52.3" r="1.65" fill="#f2262e" fill-opacity="0.82"/>
<circle cx="580.0" cy="53.9" r="1.65" fill="#f2262e" fill-opacity="0.82"/>
<circle cx="586.5" cy="53.2" r="1.65" fill="#f2262e" fill-opacity="0.82"/>
<circle cx="583.1" cy="53.7" r="1.65" fill="#f2262e" fill-opacity="0.82"/>
<circle cx="590.6" cy="44.9" r="1.65" fill="#f2262e" fill-opacity="0.82"/>
<circle cx="577.3" cy="54.2" r="1.65" fill="#f2262e" fill-opacity="0.82"/>
<circle cx="581.5" cy="51.5" r="1.65" fill="#f2262e" fill-opacity="0.82"/>
<circle cx="587.3" cy="42.3" r="1.65" fill="#f2262e" fill-opacity="0.82"/>
<circle cx="584.2" cy="53.7" r="1.65" fill="#f2262e" fill-opacity="0.82"/>
<circle cx="588.2" cy="52.6" r="1.65" fill="#f2262e" fill-opacity="0.82"/>
<circle cx="576.5" cy="51.7" r="1.65" fill="#f2262e" fill-opacity="0.82"/>
<circle cx="582.3" cy="45.6" r="1.65" fill="#f2262e" fill-opacity="0.82"/>
<circle cx="579.2" cy="54.4" r="1.65" fill="#f2262e" fill-opacity="0.82"/>
<circle cx="583.6" cy="52.4" r="1.65" fill="#f2262e" fill-opacity="0.82"/>
<circle cx="580.3" cy="53.3" r="1.65" fill="#f2262e" fill-opacity="0.82"/>
<circle cx="591.4" cy="45.1" r="1.65" fill="#f2262e" fill-opacity="0.82"/>
<circle cx="581.0" cy="53.6" r="1.65" fill="#f2262e" fill-opacity="0.82"/>
<circle cx="588.5" cy="50.6" r="1.65" fill="#f2262e" fill-opacity="0.82"/>
<circle cx="577.1" cy="49.5" r="1.65" fill="#f2262e" fill-opacity="0.82"/>
<circle cx="589.8" cy="53.0" r="1.65" fill="#f2262e" fill-opacity="0.82"/>
<circle cx="585.7" cy="44.9" r="1.65" fill="#f2262e" fill-opacity="0.82"/>
<circle cx="584.7" cy="46.6" r="1.65" fill="#f2262e" fill-opacity="0.82"/>
<circle cx="582.8" cy="50.0" r="1.65" fill="#f2262e" fill-opacity="0.82"/>
<circle cx="578.0" cy="52.8" r="1.65" fill="#f2262e" fill-opacity="0.82"/>
<circle cx="579.7" cy="52.8" r="1.65" fill="#f2262e" fill-opacity="0.82"/>
<circle cx="582.2" cy="47.2" r="1.65" fill="#f2262e" fill-opacity="0.82"/>
<circle cx="588.2" cy="44.9" r="1.65" fill="#f2262e" fill-opacity="0.82"/>
<circle cx="585.9" cy="47.3" r="1.65" fill="#f2262e" fill-opacity="0.82"/>
<circle cx="580.4" cy="50.1" r="1.65" fill="#f2262e" fill-opacity="0.82"/>
<circle cx="585.7" cy="50.2" r="1.65" fill="#f2262e" fill-opacity="0.82"/>
<circle cx="577.0" cy="53.6" r="1.65" fill="#f2262e" fill-opacity="0.82"/>
<circle cx="583.9" cy="47.3" r="1.65" fill="#f2262e" fill-opacity="0.82"/>
<circle cx="590.4" cy="51.6" r="1.65" fill="#f2262e" fill-opacity="0.82"/>
<circle cx="586.3" cy="53.9" r="1.65" fill="#f2262e" fill-opacity="0.82"/>
<circle cx="590.9" cy="42.8" r="1.65" fill="#f2262e" fill-opacity="0.82"/>
<circle cx="585.8" cy="45.8" r="1.65" fill="#f2262e" fill-opacity="0.82"/>
<circle cx="578.3" cy="50.7" r="1.65" fill="#f2262e" fill-opacity="0.82"/>
<circle cx="589.7" cy="53.3" r="1.65" fill="#f2262e" fill-opacity="0.82"/>
<circle cx="580.9" cy="54.6" r="1.65" fill="#f2262e" fill-opacity="0.82"/>
<circle cx="580.9" cy="53.4" r="1.65" fill="#f2262e" fill-opacity="0.82"/>
<circle cx="590.0" cy="47.3" r="1.65" fill="#f2262e" fill-opacity="0.82"/>
<circle cx="580.8" cy="54.2" r="1.65" fill="#f2262e" fill-opacity="0.82"/>
<circle cx="586.3" cy="51.1" r="1.65" fill="#f2262e" fill-opacity="0.82"/>
<circle cx="589.6" cy="52.6" r="1.65" fill="#f2262e" fill-opacity="0.82"/>
<circle cx="584.7" cy="45.6" r="1.65" fill="#f2262e" fill-opacity="0.82"/>
<circle cx="577.8" cy="50.4" r="1.65" fill="#f2262e" fill-opacity="0.82"/>
<circle cx="576.7" cy="50.9" r="1.65" fill="#f2262e" fill-opacity="0.82"/>
<circle cx="588.5" cy="44.5" r="1.65" fill="#f2262e" fill-opacity="0.82"/>
<circle cx="581.4" cy="50.3" r="1.65" fill="#f2262e" fill-opacity="0.82"/>
<circle cx="589.9" cy="51.8" r="1.65" fill="#f2262e" fill-opacity="0.82"/>
<circle cx="591.1" cy="53.5" r="1.65" fill="#f2262e" fill-opacity="0.82"/>
<circle cx="576.5" cy="54.2" r="1.65" fill="#f2262e" fill-opacity="0.82"/>
<circle cx="578.0" cy="54.1" r="1.65" fill="#f2262e" fill-opacity="0.82"/>
<circle cx="584.2" cy="48.6" r="1.65" fill="#f2262e" fill-opacity="0.82"/>
<circle cx="576.7" cy="51.3" r="1.65" fill="#f2262e" fill-opacity="0.82"/>
<circle cx="588.6" cy="42.7" r="1.65" fill="#f2262e" fill-opacity="0.82"/>
<circle cx="580.1" cy="94.3" r="1.6" fill="#3a5cd8" fill-opacity="0.92"/>
<circle cx="581.9" cy="95.8" r="1.6" fill="#3a5cd8" fill-opacity="0.92"/>
<circle cx="586.5" cy="94.3" r="1.6" fill="#3a5cd8" fill-opacity="0.92"/>
<circle cx="587.7" cy="92.6" r="1.6" fill="#3a5cd8" fill-opacity="0.92"/>
<circle cx="586.9" cy="97.9" r="1.6" fill="#3a5cd8" fill-opacity="0.92"/>
<circle cx="593.7" cy="94.3" r="1.6" fill="#3a5cd8" fill-opacity="0.92"/>
<circle cx="599.4" cy="95.1" r="1.6" fill="#3a5cd8" fill-opacity="0.92"/>
<circle cx="577.6" cy="102.2" r="1.6" fill="#3a5cd8" fill-opacity="0.92"/>
<circle cx="594.4" cy="109.8" r="1.6" fill="#3a5cd8" fill-opacity="0.92"/>
<circle cx="579.3" cy="118.0" r="1.6" fill="#3a5cd8" fill-opacity="0.92"/>
<circle cx="580.5" cy="93.2" r="1.6" fill="#3a5cd8" fill-opacity="0.92"/>
<circle cx="585.5" cy="95.5" r="1.6" fill="#3a5cd8" fill-opacity="0.92"/>
<circle cx="581.3" cy="91.0" r="1.6" fill="#3a5cd8" fill-opacity="0.92"/>
<circle cx="577.6" cy="89.9" r="1.6" fill="#3a5cd8" fill-opacity="0.92"/>
<circle cx="583.1" cy="88.9" r="1.6" fill="#3a5cd8" fill-opacity="0.92"/>
<circle cx="576.4" cy="87.7" r="1.6" fill="#3a5cd8" fill-opacity="0.92"/>
<circle cx="576.9" cy="87.2" r="1.6" fill="#3a5cd8" fill-opacity="0.92"/>
<circle cx="576.9" cy="89.6" r="1.6" fill="#3a5cd8" fill-opacity="0.92"/>
<circle cx="576.4" cy="90.2" r="1.6" fill="#3a5cd8" fill-opacity="0.92"/>
<circle cx="582.1" cy="90.5" r="1.6" fill="#3a5cd8" fill-opacity="0.92"/>
<circle cx="582.7" cy="90.0" r="1.6" fill="#3a5cd8" fill-opacity="0.92"/>
<circle cx="583.8" cy="91.1" r="1.6" fill="#3a5cd8" fill-opacity="0.92"/>
<circle cx="581.1" cy="91.1" r="1.6" fill="#3a5cd8" fill-opacity="0.92"/>
<circle cx="576.4" cy="87.3" r="1.6" fill="#3a5cd8" fill-opacity="0.92"/>
<circle cx="576.1" cy="87.7" r="1.6" fill="#3a5cd8" fill-opacity="0.92"/>
<circle cx="578.9" cy="88.9" r="1.6" fill="#3a5cd8" fill-opacity="0.92"/>
<circle cx="581.6" cy="90.1" r="1.6" fill="#3a5cd8" fill-opacity="0.92"/>
<circle cx="576.3" cy="88.6" r="1.6" fill="#3a5cd8" fill-opacity="0.92"/>
<circle cx="580.4" cy="88.5" r="1.6" fill="#3a5cd8" fill-opacity="0.92"/>
<circle cx="576.6" cy="89.5" r="1.6" fill="#3a5cd8" fill-opacity="0.92"/>
<circle cx="578.9" cy="89.9" r="1.6" fill="#3a5cd8" fill-opacity="0.92"/>
<circle cx="580.0" cy="91.1" r="1.6" fill="#3a5cd8" fill-opacity="0.92"/>
<circle cx="584.0" cy="87.1" r="1.6" fill="#3a5cd8" fill-opacity="0.92"/>
<circle cx="582.3" cy="90.0" r="1.6" fill="#3a5cd8" fill-opacity="0.92"/>
<circle cx="578.2" cy="87.3" r="1.6" fill="#3a5cd8" fill-opacity="0.92"/>
<circle cx="579.8" cy="88.4" r="1.6" fill="#3a5cd8" fill-opacity="0.92"/>
<circle cx="582.1" cy="90.9" r="1.6" fill="#3a5cd8" fill-opacity="0.92"/>
<circle cx="578.9" cy="88.1" r="1.6" fill="#3a5cd8" fill-opacity="0.92"/>
<circle cx="642.3" cy="66.2" r="1.85" fill="#f04040"/>
<text x="647.6" y="68.4" font-size="6.2" text-anchor="start" fill="#1a1a1a" stroke="#1a1a1a" stroke-width="0.08">Up</text>
<circle cx="642.3" cy="72.5" r="1.85" fill="#8aa0aa"/>
<text x="647.6" y="74.7" font-size="6.2" text-anchor="start" fill="#1a1a1a" stroke="#1a1a1a" stroke-width="0.08">Not sig</text>
<circle cx="642.3" cy="79.0" r="1.85" fill="#3a5ad8"/>
<text x="647.6" y="81.2" font-size="6.2" text-anchor="start" fill="#1a1a1a" stroke="#1a1a1a" stroke-width="0.08">Down</text>
<text x="174.5" y="183.2" font-size="10.25" text-anchor="middle" fill="#111" >Proteomics for the validation cohort (BALF)</text>
<text x="532.9" y="183.4" font-size="10.25" text-anchor="middle" fill="#111" >Proteomics for the validation cohort (BALF)</text>
<rect x="50.4" y="204.4" width="57.1" height="85.1" fill="none" stroke="#111" stroke-width="0.9"/>
<text x="78.95" y="200.6" font-size="8.7" text-anchor="middle" fill="#111" >LCN2</text>
<line x1="47.4" y1="275.87" x2="50.4" y2="275.87" stroke="#111" stroke-width="0.8"/>
<text x="44.7" y="278.57" font-size="7.6" text-anchor="end" fill="#111" >10000</text>
<line x1="47.4" y1="261.84" x2="50.4" y2="261.84" stroke="#111" stroke-width="0.8"/>
<text x="44.7" y="264.53999999999996" font-size="7.6" text-anchor="end" fill="#111" >20000</text>
<line x1="47.4" y1="247.81" x2="50.4" y2="247.81" stroke="#111" stroke-width="0.8"/>
<text x="44.7" y="250.50999999999996" font-size="7.6" text-anchor="end" fill="#111" >30000</text>
<line x1="47.4" y1="233.78" x2="50.4" y2="233.78" stroke="#111" stroke-width="0.8"/>
<text x="44.7" y="236.47999999999996" font-size="7.6" text-anchor="end" fill="#111" >40000</text>
<line x1="47.4" y1="219.75" x2="50.4" y2="219.75" stroke="#111" stroke-width="0.8"/>
<text x="44.7" y="222.44999999999996" font-size="7.6" text-anchor="end" fill="#111" >50000</text>
<line x1="47.4" y1="205.72" x2="50.4" y2="205.72" stroke="#111" stroke-width="0.8"/>
<text x="44.7" y="208.41999999999996" font-size="7.6" text-anchor="end" fill="#111" >60000</text>
<text x="0" y="0" font-size="8.8" text-anchor="middle" fill="#111" transform="translate(17.8,247) rotate(-90)">Relative Expression</text>
<line x1="66.10" y1="289.5" x2="66.10" y2="292.5" stroke="#111" stroke-width="0.8"/>
<line x1="92.08" y1="289.5" x2="92.08" y2="292.5" stroke="#111" stroke-width="0.8"/>
<text x="0" y="0" font-size="7.7" text-anchor="end" fill="#111" transform="translate(66.8,301.0) rotate(-14)">Control</text>
<text x="0" y="0" font-size="7.7" text-anchor="end" fill="#111" transform="translate(93.1,301.8) rotate(-13.5)">P.aeruginosa</text>
<path d="M87.1 211.9 C84 218 83 224 83.2 230 C83.5 245 87 262 89.1 273.8 H96.2 C98 262 101.5 245 101.2 230 C101 222 99 216 97.5 211.9 Z" fill="#f98080" stroke="#222" stroke-width="0.7"/>
<circle cx="95.6" cy="210.6" r="4.2" fill="#ee0000" fill-opacity="0.55"/>
<circle cx="88.6" cy="221.6" r="4.2" fill="#ee0000" fill-opacity="0.55"/>
<circle cx="95" cy="226.7" r="4.2" fill="#ee0000" fill-opacity="0.55"/>
<circle cx="94.7" cy="230.5" r="4.2" fill="#ee0000" fill-opacity="0.55"/>
<circle cx="89.6" cy="235.6" r="4.2" fill="#ee0000" fill-opacity="0.55"/>
<circle cx="91.1" cy="256" r="4.2" fill="#ee0000" fill-opacity="0.55"/>
<circle cx="94.2" cy="256" r="4.2" fill="#ee0000" fill-opacity="0.55"/>
<circle cx="95.2" cy="274.3" r="4.2" fill="#ee0000" fill-opacity="0.55"/>
<path d="M57.2 286.3 C61 285 64 284.6 66.3 284.6 C69 284.6 72 285 75.5 286.3 C72 287.4 69 287.8 66.3 287.8 C64 287.8 61 287.4 57.2 286.3 Z" fill="#2040d8" fill-opacity="0.6" stroke="none"/>
<circle cx="62.5" cy="285.8" r="3.7" fill="#0a34d4" fill-opacity="0.8"/>
<circle cx="65" cy="283.6" r="3.7" fill="#0a34d4" fill-opacity="0.8"/>
<circle cx="68" cy="285.2" r="3.7" fill="#0a34d4" fill-opacity="0.8"/>
<circle cx="70.2" cy="283" r="3.7" fill="#0a34d4" fill-opacity="0.8"/>
<circle cx="69.8" cy="280.3" r="3.7" fill="#0a34d4" fill-opacity="0.8"/>
<circle cx="66" cy="288.5" r="3.7" fill="#0a34d4" fill-opacity="0.8"/>
<circle cx="63" cy="288" r="3.7" fill="#0a34d4" fill-opacity="0.8"/>
<circle cx="69.5" cy="288" r="3.7" fill="#0a34d4" fill-opacity="0.8"/>
<circle cx="71.4" cy="285.6" r="3.7" fill="#0a34d4" fill-opacity="0.8"/>
<path d="M57.2 286.3 C61 285 64 284.6 66.3 284.6 C69 284.6 72 285 75.5 286.3 C72 287.4 69 287.8 66.3 287.8 C64 287.8 61 287.4 57.2 286.3 Z" fill="none" stroke="#111" stroke-width="0.8" stroke-opacity="0.85"/>
<path d="M66.2 210.8 V209.6 H94.5 V210.8" fill="none" stroke="#222" stroke-width="0.6"/>
<text x="79.14999999999999" y="211.2" font-size="7.6" text-anchor="middle" fill="#222" stroke="#222" stroke-width="0.2">***</text>
<rect x="158.8" y="204.4" width="55.599999999999994" height="84.99999999999997" fill="none" stroke="#111" stroke-width="0.9"/>
<text x="186.60000000000002" y="200.6" font-size="8.7" text-anchor="middle" fill="#111" >CALR</text>
<line x1="155.8" y1="279.60" x2="158.8" y2="279.60" stroke="#111" stroke-width="0.8"/>
<text x="154.2" y="282.3" font-size="7.6" text-anchor="end" fill="#111" >2000</text>
<line x1="155.8" y1="267.22" x2="158.8" y2="267.22" stroke="#111" stroke-width="0.8"/>
<text x="154.2" y="269.916" font-size="7.6" text-anchor="end" fill="#111" >4000</text>
<line x1="155.8" y1="254.83" x2="158.8" y2="254.83" stroke="#111" stroke-width="0.8"/>
<text x="154.2" y="257.53200000000004" font-size="7.6" text-anchor="end" fill="#111" >6000</text>
<line x1="155.8" y1="242.45" x2="158.8" y2="242.45" stroke="#111" stroke-width="0.8"/>
<text x="154.2" y="245.14800000000002" font-size="7.6" text-anchor="end" fill="#111" >8000</text>
<line x1="155.8" y1="230.06" x2="158.8" y2="230.06" stroke="#111" stroke-width="0.8"/>
<text x="154.2" y="232.764" font-size="7.6" text-anchor="end" fill="#111" >10000</text>
<line x1="155.8" y1="217.68" x2="158.8" y2="217.68" stroke="#111" stroke-width="0.8"/>
<text x="154.2" y="220.38000000000002" font-size="7.6" text-anchor="end" fill="#111" >12000</text>
<line x1="155.8" y1="205.30" x2="158.8" y2="205.30" stroke="#111" stroke-width="0.8"/>
<text x="154.2" y="207.996" font-size="7.6" text-anchor="end" fill="#111" >14000</text>
<text x="0" y="0" font-size="8.8" text-anchor="middle" fill="#111" transform="translate(125.2,247) rotate(-90)">Relative Expression</text>
<line x1="174.09" y1="289.4" x2="174.09" y2="292.4" stroke="#111" stroke-width="0.8"/>
<line x1="199.39" y1="289.4" x2="199.39" y2="292.4" stroke="#111" stroke-width="0.8"/>
<text x="0" y="0" font-size="7.7" text-anchor="end" fill="#111" transform="translate(174.8,301.0) rotate(-14)">Control</text>
<text x="0" y="0" font-size="7.7" text-anchor="end" fill="#111" transform="translate(200.4,301.8) rotate(-13.5)">P.aeruginosa</text>
<path d="M193.8 212 C191.5 225 191.2 235 191.4 245 C191.6 258 192.5 270 193.8 278.8 H206.7 C208 270 208.8 258 208.7 245 C208.6 235 208 225 205.8 212 Z" fill="#f98080" stroke="#222" stroke-width="0.7"/>
<circle cx="196.3" cy="210.9" r="4.2" fill="#ee0000" fill-opacity="0.55"/>
<circle cx="200.1" cy="220.1" r="4.2" fill="#ee0000" fill-opacity="0.55"/>
<circle cx="201.5" cy="230" r="4.2" fill="#ee0000" fill-opacity="0.55"/>
<circle cx="202.1" cy="238.7" r="4.2" fill="#ee0000" fill-opacity="0.55"/>
<circle cx="202.9" cy="257.3" r="4.2" fill="#ee0000" fill-opacity="0.55"/>
<circle cx="199.5" cy="263.6" r="4.2" fill="#ee0000" fill-opacity="0.55"/>
<circle cx="196.6" cy="273.1" r="4.2" fill="#ee0000" fill-opacity="0.55"/>
<circle cx="202.9" cy="278.8" r="4.2" fill="#ee0000" fill-opacity="0.55"/>
<circle cx="201.5" cy="232" r="4.2" fill="#ee0000" fill-opacity="0.55"/>
<path d="M165.2 286.7 C167 286.2 168 285 168.5 282.5 C170 281.2 173 281 175 281 C178 281 180 281.5 181 283 C181.5 285.5 182.5 286.2 183.5 286.7 C180 287.8 177 288 174.3 288 C171 288 168 287.8 165.2 286.7 Z" fill="#2040d8" fill-opacity="0.6" stroke="none"/>
<circle cx="170.5" cy="283.5" r="3.7" fill="#0a34d4" fill-opacity="0.8"/>
<circle cx="174" cy="281.5" r="3.7" fill="#0a34d4" fill-opacity="0.8"/>
<circle cx="178" cy="280.5" r="3.7" fill="#0a34d4" fill-opacity="0.8"/>
<circle cx="172" cy="287.5" r="3.7" fill="#0a34d4" fill-opacity="0.8"/>
<circle cx="176.5" cy="288" r="3.7" fill="#0a34d4" fill-opacity="0.8"/>
<circle cx="179.5" cy="284.5" r="3.7" fill="#0a34d4" fill-opacity="0.8"/>
<circle cx="169" cy="286" r="3.7" fill="#0a34d4" fill-opacity="0.8"/>
<circle cx="174.5" cy="285" r="3.7" fill="#0a34d4" fill-opacity="0.8"/>
<path d="M165.2 286.7 C167 286.2 168 285 168.5 282.5 C170 281.2 173 281 175 281 C178 281 180 281.5 181 283 C181.5 285.5 182.5 286.2 183.5 286.7 C180 287.8 177 288 174.3 288 C171 288 168 287.8 165.2 286.7 Z" fill="none" stroke="#111" stroke-width="0.8" stroke-opacity="0.85"/>
<path d="M174 210.8 V209.6 H196 V210.8" fill="none" stroke="#222" stroke-width="0.6"/>
<text x="183.8" y="211.2" font-size="7.6" text-anchor="middle" fill="#222" stroke="#222" stroke-width="0.2">***</text>
<rect x="266.7" y="204.3" width="57.10000000000002" height="85.0" fill="none" stroke="#111" stroke-width="0.9"/>
<text x="295.25" y="200.6" font-size="8.7" text-anchor="middle" fill="#111" >TPI1</text>
<line x1="263.7" y1="269.52" x2="266.7" y2="269.52" stroke="#111" stroke-width="0.8"/>
<text x="260.9" y="272.21999999999997" font-size="7.6" text-anchor="end" fill="#111" >5000</text>
<line x1="263.7" y1="245.64" x2="266.7" y2="245.64" stroke="#111" stroke-width="0.8"/>
<text x="260.9" y="248.33999999999997" font-size="7.6" text-anchor="end" fill="#111" >10000</text>
<line x1="263.7" y1="221.76" x2="266.7" y2="221.76" stroke="#111" stroke-width="0.8"/>
<text x="260.9" y="224.45999999999998" font-size="7.6" text-anchor="end" fill="#111" >15000</text>
<text x="0" y="0" font-size="8.8" text-anchor="middle" fill="#111" transform="translate(232.8,247) rotate(-90)">Relative Expression</text>
<line x1="282.40" y1="289.3" x2="282.40" y2="292.3" stroke="#111" stroke-width="0.8"/>
<line x1="308.38" y1="289.3" x2="308.38" y2="292.3" stroke="#111" stroke-width="0.8"/>
<text x="0" y="0" font-size="7.7" text-anchor="end" fill="#111" transform="translate(283.1,301.0) rotate(-14)">Control</text>
<text x="0" y="0" font-size="7.7" text-anchor="end" fill="#111" transform="translate(309.4,301.8) rotate(-13.5)">P.aeruginosa</text>
<path d="M305.8 212 C303 230 300 248 299.2 261 C299 266 299.8 270 300.3 272.5 H316.3 C317 270 317.3 266 317 261 C316 248 313 230 309.9 212 Z" fill="#f98080" stroke="#222" stroke-width="0.7"/>
<circle cx="307.9" cy="211.4" r="4.2" fill="#ee0000" fill-opacity="0.55"/>
<circle cx="310.4" cy="233" r="4.2" fill="#ee0000" fill-opacity="0.55"/>
<circle cx="304.6" cy="238.1" r="4.2" fill="#ee0000" fill-opacity="0.55"/>
<circle cx="304.8" cy="245.3" r="4.2" fill="#ee0000" fill-opacity="0.55"/>
<circle cx="310.4" cy="252.6" r="4.2" fill="#ee0000" fill-opacity="0.55"/>
<circle cx="305.3" cy="262.3" r="4.2" fill="#ee0000" fill-opacity="0.55"/>
<circle cx="304.1" cy="267.4" r="4.2" fill="#ee0000" fill-opacity="0.55"/>
<circle cx="306.6" cy="271.2" r="4.2" fill="#ee0000" fill-opacity="0.55"/>
<circle cx="305.3" cy="268.6" r="4.2" fill="#ee0000" fill-opacity="0.55"/>
<path d="M273 282.6 C276 279.5 279 278.5 282 278.5 C285 278.5 288.5 279.5 291.6 282.6 C288.5 285.8 285 287.2 282 287.2 C279 287.2 276 285.8 273 282.6 Z" fill="#2040d8" fill-opacity="0.6" stroke="none"/>
<circle cx="279.5" cy="280.5" r="3.7" fill="#0a34d4" fill-opacity="0.8"/>
<circle cx="282.5" cy="278" r="3.7" fill="#0a34d4" fill-opacity="0.8"/>
<circle cx="285.5" cy="281" r="3.7" fill="#0a34d4" fill-opacity="0.8"/>
<circle cx="280" cy="284.5" r="3.7" fill="#0a34d4" fill-opacity="0.8"/>
<circle cx="284.5" cy="285.5" r="3.7" fill="#0a34d4" fill-opacity="0.8"/>
<circle cx="282" cy="288.2" r="3.7" fill="#0a34d4" fill-opacity="0.8"/>
<circle cx="278" cy="286.5" r="3.7" fill="#0a34d4" fill-opacity="0.8"/>
<circle cx="282.5" cy="282.5" r="3.7" fill="#0a34d4" fill-opacity="0.8"/>
<circle cx="286.5" cy="284.8" r="3.7" fill="#0a34d4" fill-opacity="0.8"/>
<circle cx="283" cy="284" r="3.7" fill="#0a34d4" fill-opacity="0.8"/>
<path d="M273 282.6 C276 279.5 279 278.5 282 278.5 C285 278.5 288.5 279.5 291.6 282.6 C288.5 285.8 285 287.2 282 287.2 C279 287.2 276 285.8 273 282.6 Z" fill="none" stroke="#111" stroke-width="0.8" stroke-opacity="0.85"/>
<path d="M282.3 210.8 V209.6 H308 V210.8" fill="none" stroke="#222" stroke-width="0.6"/>
<text x="293.95" y="211.2" font-size="7.6" text-anchor="middle" fill="#222" stroke="#222" stroke-width="0.2">**</text>
<rect x="383.5" y="203.60000000000002" width="75.60000000000004" height="82.79999999999997" fill="#eff3fc" stroke="#444" stroke-width="0.8"/>
<line x1="384.7" y1="285.4" x2="458.1" y2="204.8" stroke="#687a8c" stroke-width="1.0" stroke-dasharray="2 2.05"/>
<path d="M383.7 286.4 V203.8 H458.70000000000005" fill="none" stroke="#141e80" stroke-width="1.4"/>
<line x1="380.7" y1="286.40" x2="383.7" y2="286.40" stroke="#333" stroke-width="0.7"/>
<text x="379.5" y="289.0" font-size="7.3" text-anchor="end" fill="#111" >0.0</text>
<line x1="383.70" y1="286.4" x2="383.70" y2="288.59999999999997" stroke="#333" stroke-width="0.7"/>
<text x="383.7" y="296.5" font-size="7.3" text-anchor="middle" fill="#111" >0.0</text>
<line x1="380.7" y1="269.88" x2="383.7" y2="269.88" stroke="#333" stroke-width="0.7"/>
<text x="379.5" y="272.48" font-size="7.3" text-anchor="end" fill="#111" >0.2</text>
<line x1="398.78" y1="286.4" x2="398.78" y2="288.59999999999997" stroke="#333" stroke-width="0.7"/>
<text x="398.78" y="296.5" font-size="7.3" text-anchor="middle" fill="#111" >0.2</text>
<line x1="380.7" y1="253.36" x2="383.7" y2="253.36" stroke="#333" stroke-width="0.7"/>
<text x="379.5" y="255.95999999999998" font-size="7.3" text-anchor="end" fill="#111" >0.4</text>
<line x1="413.86" y1="286.4" x2="413.86" y2="288.59999999999997" stroke="#333" stroke-width="0.7"/>
<text x="413.86" y="296.5" font-size="7.3" text-anchor="middle" fill="#111" >0.4</text>
<line x1="380.7" y1="236.84" x2="383.7" y2="236.84" stroke="#333" stroke-width="0.7"/>
<text x="379.5" y="239.43999999999997" font-size="7.3" text-anchor="end" fill="#111" >0.6</text>
<line x1="428.94" y1="286.4" x2="428.94" y2="288.59999999999997" stroke="#333" stroke-width="0.7"/>
<text x="428.94" y="296.5" font-size="7.3" text-anchor="middle" fill="#111" >0.6</text>
<line x1="380.7" y1="220.32" x2="383.7" y2="220.32" stroke="#333" stroke-width="0.7"/>
<text x="379.5" y="222.92" font-size="7.3" text-anchor="end" fill="#111" >0.8</text>
<line x1="444.02" y1="286.4" x2="444.02" y2="288.59999999999997" stroke="#333" stroke-width="0.7"/>
<text x="444.02000000000004" y="296.5" font-size="7.3" text-anchor="middle" fill="#111" >0.8</text>
<line x1="380.7" y1="203.80" x2="383.7" y2="203.80" stroke="#333" stroke-width="0.7"/>
<text x="379.5" y="206.4" font-size="7.3" text-anchor="end" fill="#111" >1.0</text>
<line x1="459.10" y1="286.4" x2="459.10" y2="288.59999999999997" stroke="#333" stroke-width="0.7"/>
<text x="459.1" y="296.5" font-size="7.3" text-anchor="middle" fill="#111" >1.0</text>
<text x="421.4" y="305.5" font-size="8.3" text-anchor="middle" fill="#111" >1−Specificity (FPR)</text>
<text x="0" y="0" font-size="8.3" text-anchor="middle" fill="#111" transform="translate(364.4,244.7) rotate(-90)">Sensitivity (TPR)</text>
<text x="457.90000000000003" y="263.0" font-size="7.7" text-anchor="end" fill="#111" >LCN2</text>
<text x="457.90000000000003" y="273.9" font-size="7.7" text-anchor="end" fill="#111" >AUC: 1.000</text>
<text x="457.90000000000003" y="284.4" font-size="7.7" text-anchor="end" fill="#111" >CI: 1.000−1.000</text>
<rect x="489.4" y="203.4" width="76.5" height="82.9" fill="#eff3fc" stroke="#444" stroke-width="0.8"/>
<line x1="491.4" y1="285.3" x2="564.9" y2="205.4" stroke="#687a8c" stroke-width="1.0" stroke-dasharray="2 2.05"/>
<path d="M490.4 286.3 V204.4 H565.5" fill="none" stroke="#1a28c4" stroke-width="1.4"/>
<line x1="487.4" y1="286.30" x2="490.4" y2="286.30" stroke="#333" stroke-width="0.7"/>
<text x="486.2" y="288.90000000000003" font-size="7.3" text-anchor="end" fill="#111" >0.0</text>
<line x1="490.40" y1="286.3" x2="490.40" y2="288.5" stroke="#333" stroke-width="0.7"/>
<text x="490.4" y="296.5" font-size="7.3" text-anchor="middle" fill="#111" >0.0</text>
<line x1="487.4" y1="269.92" x2="490.4" y2="269.92" stroke="#333" stroke-width="0.7"/>
<text x="486.2" y="272.52000000000004" font-size="7.3" text-anchor="end" fill="#111" >0.2</text>
<line x1="505.50" y1="286.3" x2="505.50" y2="288.5" stroke="#333" stroke-width="0.7"/>
<text x="505.5" y="296.5" font-size="7.3" text-anchor="middle" fill="#111" >0.2</text>
<line x1="487.4" y1="253.54" x2="490.4" y2="253.54" stroke="#333" stroke-width="0.7"/>
<text x="486.2" y="256.14000000000004" font-size="7.3" text-anchor="end" fill="#111" >0.4</text>
<line x1="520.60" y1="286.3" x2="520.60" y2="288.5" stroke="#333" stroke-width="0.7"/>
<text x="520.6" y="296.5" font-size="7.3" text-anchor="middle" fill="#111" >0.4</text>
<line x1="487.4" y1="237.16" x2="490.4" y2="237.16" stroke="#333" stroke-width="0.7"/>
<text x="486.2" y="239.76" font-size="7.3" text-anchor="end" fill="#111" >0.6</text>
<line x1="535.70" y1="286.3" x2="535.70" y2="288.5" stroke="#333" stroke-width="0.7"/>
<text x="535.6999999999999" y="296.5" font-size="7.3" text-anchor="middle" fill="#111" >0.6</text>
<line x1="487.4" y1="220.78" x2="490.4" y2="220.78" stroke="#333" stroke-width="0.7"/>
<text x="486.2" y="223.38" font-size="7.3" text-anchor="end" fill="#111" >0.8</text>
<line x1="550.80" y1="286.3" x2="550.80" y2="288.5" stroke="#333" stroke-width="0.7"/>
<text x="550.8" y="296.5" font-size="7.3" text-anchor="middle" fill="#111" >0.8</text>
<line x1="487.4" y1="204.40" x2="490.4" y2="204.40" stroke="#333" stroke-width="0.7"/>
<text x="486.2" y="207.0" font-size="7.3" text-anchor="end" fill="#111" >1.0</text>
<line x1="565.90" y1="286.3" x2="565.90" y2="288.5" stroke="#333" stroke-width="0.7"/>
<text x="565.9" y="296.5" font-size="7.3" text-anchor="middle" fill="#111" >1.0</text>
<text x="528.15" y="305.5" font-size="8.3" text-anchor="middle" fill="#111" >1−Specificity (FPR)</text>
<text x="0" y="0" font-size="8.3" text-anchor="middle" fill="#111" transform="translate(472.2,245.0) rotate(-90)">Sensitivity (TPR)</text>
<text x="564.6999999999999" y="263.0" font-size="7.7" text-anchor="end" fill="#111" >CALR</text>
<text x="564.6999999999999" y="273.9" font-size="7.7" text-anchor="end" fill="#111" >AUC: 1.000</text>
<text x="564.6999999999999" y="284.4" font-size="7.7" text-anchor="end" fill="#111" >CI: 1.000−1.000</text>
<rect x="602.0" y="203.0" width="76.20000000000005" height="83.30000000000001" fill="#eff3fc" stroke="#444" stroke-width="0.8"/>
<line x1="604.0" y1="285.3" x2="677.2" y2="205.0" stroke="#687a8c" stroke-width="1.0" stroke-dasharray="2 2.05"/>
<path d="M603.0 286.3 V204.0 H677.8000000000001" fill="none" stroke="#1a28c4" stroke-width="1.4"/>
<line x1="600.0" y1="286.30" x2="603.0" y2="286.30" stroke="#333" stroke-width="0.7"/>
<text x="598.8" y="288.90000000000003" font-size="7.3" text-anchor="end" fill="#111" >0.0</text>
<line x1="603.00" y1="286.3" x2="603.00" y2="288.5" stroke="#333" stroke-width="0.7"/>
<text x="603.0" y="296.5" font-size="7.3" text-anchor="middle" fill="#111" >0.0</text>
<line x1="600.0" y1="269.84" x2="603.0" y2="269.84" stroke="#333" stroke-width="0.7"/>
<text x="598.8" y="272.44000000000005" font-size="7.3" text-anchor="end" fill="#111" >0.2</text>
<line x1="618.04" y1="286.3" x2="618.04" y2="288.5" stroke="#333" stroke-width="0.7"/>
<text x="618.04" y="296.5" font-size="7.3" text-anchor="middle" fill="#111" >0.2</text>
<line x1="600.0" y1="253.38" x2="603.0" y2="253.38" stroke="#333" stroke-width="0.7"/>
<text x="598.8" y="255.98" font-size="7.3" text-anchor="end" fill="#111" >0.4</text>
<line x1="633.08" y1="286.3" x2="633.08" y2="288.5" stroke="#333" stroke-width="0.7"/>
<text x="633.08" y="296.5" font-size="7.3" text-anchor="middle" fill="#111" >0.4</text>
<line x1="600.0" y1="236.92" x2="603.0" y2="236.92" stroke="#333" stroke-width="0.7"/>
<text x="598.8" y="239.51999999999998" font-size="7.3" text-anchor="end" fill="#111" >0.6</text>
<line x1="648.12" y1="286.3" x2="648.12" y2="288.5" stroke="#333" stroke-width="0.7"/>
<text x="648.12" y="296.5" font-size="7.3" text-anchor="middle" fill="#111" >0.6</text>
<line x1="600.0" y1="220.46" x2="603.0" y2="220.46" stroke="#333" stroke-width="0.7"/>
<text x="598.8" y="223.05999999999997" font-size="7.3" text-anchor="end" fill="#111" >0.8</text>
<line x1="663.16" y1="286.3" x2="663.16" y2="288.5" stroke="#333" stroke-width="0.7"/>
<text x="663.1600000000001" y="296.5" font-size="7.3" text-anchor="middle" fill="#111" >0.8</text>
<line x1="600.0" y1="204.00" x2="603.0" y2="204.00" stroke="#333" stroke-width="0.7"/>
<text x="598.8" y="206.6" font-size="7.3" text-anchor="end" fill="#111" >1.0</text>
<line x1="678.20" y1="286.3" x2="678.20" y2="288.5" stroke="#333" stroke-width="0.7"/>
<text x="678.2" y="296.5" font-size="7.3" text-anchor="middle" fill="#111" >1.0</text>
<text x="640.6" y="305.5" font-size="8.3" text-anchor="middle" fill="#111" >1−Specificity (FPR)</text>
<text x="0" y="0" font-size="8.3" text-anchor="middle" fill="#111" transform="translate(584.1,244.8) rotate(-90)">Sensitivity (TPR)</text>
<text x="677.0" y="263.0" font-size="7.7" text-anchor="end" fill="#111" >TPI1</text>
<text x="677.0" y="273.9" font-size="7.7" text-anchor="end" fill="#111" >AUC: 1.000</text>
<text x="677.0" y="284.4" font-size="7.7" text-anchor="end" fill="#111" >CI: 1.000−1.000</text>
</svg></body></html>
